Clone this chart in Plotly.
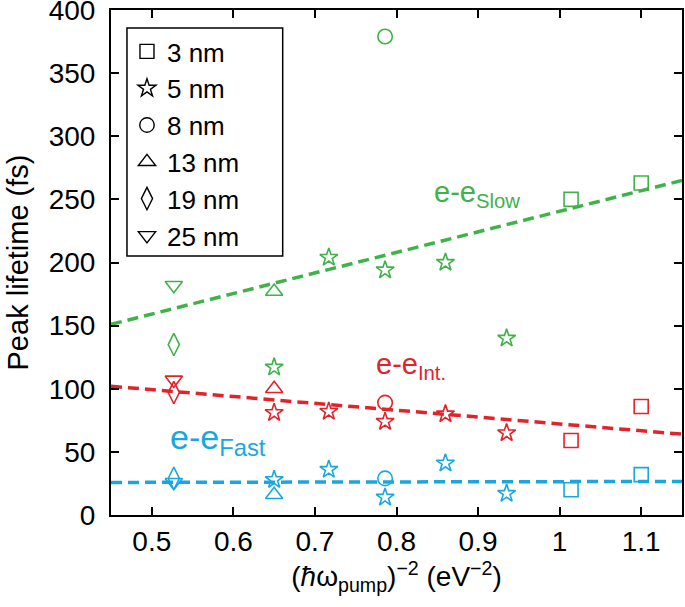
import plotly.graph_objects as go

# ---------------- data ----------------
size_names = ["3 nm", "5 nm", "8 nm", "13 nm", "19 nm", "25 nm"]
symbols = ["square-open", "star-open", "circle-open", "triangle-up-open", "diamond-tall-open", "triangle-down-open"]
msizes = [14, 13.5, 14.5, 15, 16, 15]

x_3nm = [1.014, 1.100]
slow_3nm = [250, 263]
int_3nm = [59, 86]
fast_3nm = [20, 32]

x_5nm = [0.650, 0.717, 0.786, 0.860, 0.935]
slow_5nm = [117, 204, 194, 200, 140]
int_5nm = [81, 82, 74, 80, 65]
fast_5nm = [28, 36, 14, 41, 17]

x_8nm = [0.786]
slow_8nm = [379]
int_8nm = [89]
fast_8nm = [29]

x_13nm = [0.650]
slow_13nm = [177]
int_13nm = [100]
fast_13nm = [16]

x_19nm = [0.527]
slow_19nm = [135]
int_19nm = [97]
fast_19nm = [29]

x_25nm = [0.527]
slow_25nm = [182]
int_25nm = [107]
fast_25nm = [26]

fit_x = [0.45, 1.15]
slow_fit = [151, 265]
int_fit = [102, 64]
fast_fit = [25.8, 26.6]

x_ticks = [0.5, 0.6, 0.7, 0.8, 0.9, 1.0, 1.1]
x_ticktext = ["0.5", "0.6", "0.7", "0.8", "0.9", "1", "1.1"]
y_ticks = [0, 50, 100, 150, 200, 250, 300, 350, 400]

# ---------------- style ----------------
GREEN = "#3fb24a"
RED = "#e2232a"
BLUE = "#1aa7e0"
FONT = "Liberation Sans, Arial, sans-serif"

groups = [
    (x_3nm, slow_3nm, int_3nm, fast_3nm),
    (x_5nm, slow_5nm, int_5nm, fast_5nm),
    (x_8nm, slow_8nm, int_8nm, fast_8nm),
    (x_13nm, slow_13nm, int_13nm, fast_13nm),
    (x_19nm, slow_19nm, int_19nm, fast_19nm),
    (x_25nm, slow_25nm, int_25nm, fast_25nm),
]

fig = go.Figure()

# fit lines
for ys, col in [(slow_fit, GREEN), (int_fit, RED), (fast_fit, BLUE)]:
    fig.add_trace(go.Scatter(x=fit_x, y=ys, mode="lines",
                             line=dict(color=col, width=3.5, dash="11px,6px"),
                             showlegend=False, hoverinfo="skip"))

# data markers
for (xs, sl, it, fa), sym, ms in zip(groups, symbols, msizes):
    for ys, col in [(sl, GREEN), (it, RED), (fa, BLUE)]:
        fig.add_trace(go.Scatter(x=xs, y=ys, mode="markers",
                                 marker=dict(symbol=sym, size=ms, color=col,
                                             line=dict(color=col, width=1.6)),
                                 showlegend=False))

# legend entries (black)
for name, sym, ms in zip(size_names, symbols, msizes):
    fig.add_trace(go.Scatter(x=[None], y=[None], mode="markers", name=name,
                             marker=dict(symbol=sym, size=ms, color="black",
                                         line=dict(color="black", width=1.4))))

# legend frame
fig.add_shape(type="rect", xref="paper", yref="paper",
              x0=(127 - 111) / 572, x1=(283 - 111) / 572,
              y0=(515 - 256) / 505, y1=(515 - 28) / 505,
              line=dict(color="black", width=1.5), fillcolor="rgba(0,0,0,0)")

# labels
fig.add_annotation(x=0.843, y=254, xref="x", yref="y", text="e-e<sub>Slow</sub>",
                   showarrow=False, xanchor="left", yanchor="middle",
                   font=dict(family=FONT, size=29, color=GREEN))
fig.add_annotation(x=0.772, y=118, xref="x", yref="y", text="e-e<sub>Int.</sub>",
                   showarrow=False, xanchor="left", yanchor="middle",
                   font=dict(family=FONT, size=29, color=RED))
fig.add_annotation(x=0.520, y=60, xref="x", yref="y", text="e-e<sub>Fast</sub>",
                   showarrow=False, xanchor="left", yanchor="middle",
                   font=dict(family=FONT, size=34, color=BLUE))

axis_common = dict(showline=True, linecolor="black", linewidth=2, mirror="ticks",
                   ticks="inside", ticklen=8, tickwidth=2, tickcolor="black",
                   showgrid=False, zeroline=False, automargin=False,
                   ticklabeloverflow="allow",
                   tickfont=dict(family=FONT, size=28, color="black"))

fig.update_xaxes(range=[0.45, 1.15], tickvals=x_ticks, ticktext=x_ticktext,
                 ticklabelstandoff=0,
                 title=dict(text="(<i>ħ</i>ω<sub>pump</sub>)<sup>−2</sup> (eV<sup>−2</sup>)",
                            font=dict(family=FONT, size=28, color="black"), standoff=10),
                 **axis_common)
fig.update_yaxes(range=[0, 400], tickvals=y_ticks, ticklabelstandoff=8,
                 title=dict(text="Peak lifetime (fs)",
                            font=dict(family=FONT, size=29, color="black"), standoff=12),
                 **axis_common)

fig.update_layout(
    width=685, height=607,
    margin=dict(l=111, r=3, t=10, b=92),
    plot_bgcolor="white", paper_bgcolor="white",
    font=dict(family=FONT, color="black"),
    legend=dict(x=(127 - 111) / 572, y=(515 - 28) / 505, xanchor="left", yanchor="top",
                bgcolor="rgba(0,0,0,0)", borderwidth=0,
                font=dict(family=FONT, size=26, color="black"),
                itemsizing="trace"),
    showlegend=True,
)

fig.write_html("out.html",
               config={"displayModeBar": False},
               post_script="document.body.style.margin='0';document.body.style.padding='0';")
